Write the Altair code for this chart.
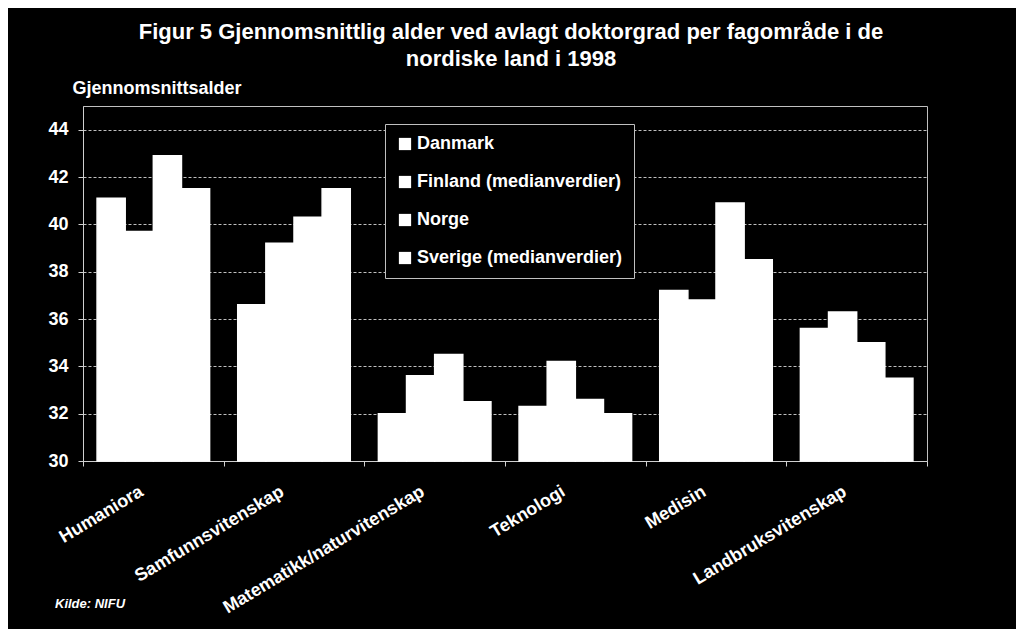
import altair as alt
import pandas as pd

CATEGORIES = ["Humaniora", "Samfunnsvitenskap", "Matematikk/naturvitenskap",
              "Teknologi", "Medisin", "Landbruksvitenskap"]
SERIES = ["Danmark", "Finland (medianverdier)", "Norge", "Sverige (medianverdier)"]
DANMARK = [41.1, 36.6, 32.0, 32.3, 37.2, 35.6]
FINLAND = [39.7, 39.2, 33.6, 34.2, 36.8, 36.3]
NORGE = [42.9, 40.3, 34.5, 32.6, 40.9, 35.0]
SVERIGE = [41.5, 41.5, 32.5, 32.0, 38.5, 33.5]
Y_TICKS = [30, 32, 34, 36, 38, 40, 42, 44]
TITLE_LINES = ["Figur 5 Gjennomsnittlig alder ved avlagt doktorgrad per fagområde i de",
               "nordiske land i 1998"]
Y_TITLE = "Gjennomsnittsalder"
SOURCE = "Kilde: NIFU"

FONT = "Liberation Sans"

rows = []
for s, vals in zip(SERIES, [DANMARK, FINLAND, NORGE, SVERIGE]):
    for c, v in zip(CATEGORIES, vals):
        rows.append({"category": c, "series": s, "value": v})
df = pd.DataFrame(rows)

bars = alt.Chart(df).mark_bar(color="white", stroke="white", strokeWidth=1.5).encode(
    x=alt.X("category:N", sort=CATEGORIES,
            scale=alt.Scale(paddingInner=0, paddingOuter=0),
            axis=alt.Axis(title=None, labelAngle=-31, labelAlign="right",
                          labelBaseline="middle", labelPadding=24, labelOffset=-12,
                          labelFontSize=18, labelFontWeight="bold",
                          labelColor="white", labelFont=FONT,
                          labelLimit=0, tickBand="extent", tickSize=5,
                          tickColor="#d0d0d0", domainColor="#d0d0d0", grid=False)),
    xOffset=alt.XOffset("series:N", sort=SERIES,
                        scale=alt.Scale(paddingInner=0, paddingOuter=0.5)),
    y=alt.Y("value:Q", scale=alt.Scale(domain=[30, 45], zero=False, nice=False),
            axis=alt.Axis(values=Y_TICKS, format="d", title=Y_TITLE, titleAngle=0,
                          titleX=-11, titleY=-13, titleAlign="left",
                          titleBaseline="alphabetic", titleFontSize=18,
                          titleFontWeight="bold", titleColor="white", titleFont=FONT,
                          labelColor="white", labelFontSize=18, labelFontWeight="bold",
                          labelFont=FONT, labelPadding=10, tickSize=5,
                          tickColor="#d0d0d0", domainColor="#d0d0d0",
                          grid=True, gridColor="#c0c0c0", gridDash=[3, 2])),
    y2=alt.datum(30),
    color=alt.Color("series:N", sort=SERIES,
                    scale=alt.Scale(domain=SERIES, range=["#ffffff"] * 4),
                    legend=alt.Legend(title=None, orient="none", legendX=302, legendY=18,
                                      fillColor="black", strokeColor="#c0c0c0",
                                      padding=11, rowPadding=20, symbolType="square",
                                      symbolSize=150, symbolStrokeWidth=0,
                                      symbolOpacity=1, labelFontSize=18,
                                      labelFontWeight="bold",
                                      labelColor="white", labelFont=FONT,
                                      labelOffset=3, labelLimit=0)),
)

src = alt.Chart(pd.DataFrame({"t": [SOURCE]})).mark_text(
    color="white", font=FONT, fontSize=13, fontStyle="italic", fontWeight="bold",
    align="left", baseline="alphabetic"
).encode(text="t:N", x=alt.value(-28), y=alt.value(502))

chart = alt.layer(bars, src).properties(
    width=844, height=355,
    autosize=alt.AutoSizeParams(type="none"),
    padding={"left": 75, "top": 98, "right": 89, "bottom": 168},
    background="black",
    title=alt.TitleParams(text=TITLE_LINES, anchor="middle", fontSize=22,
                          fontWeight="bold", color="white", font=FONT,
                          lineHeight=27, offset=8, dx=6),
).configure_view(stroke="#c0c0c0", strokeWidth=1)

chart.save("out.html", embed_options={"renderer": "svg", "actions": False})
